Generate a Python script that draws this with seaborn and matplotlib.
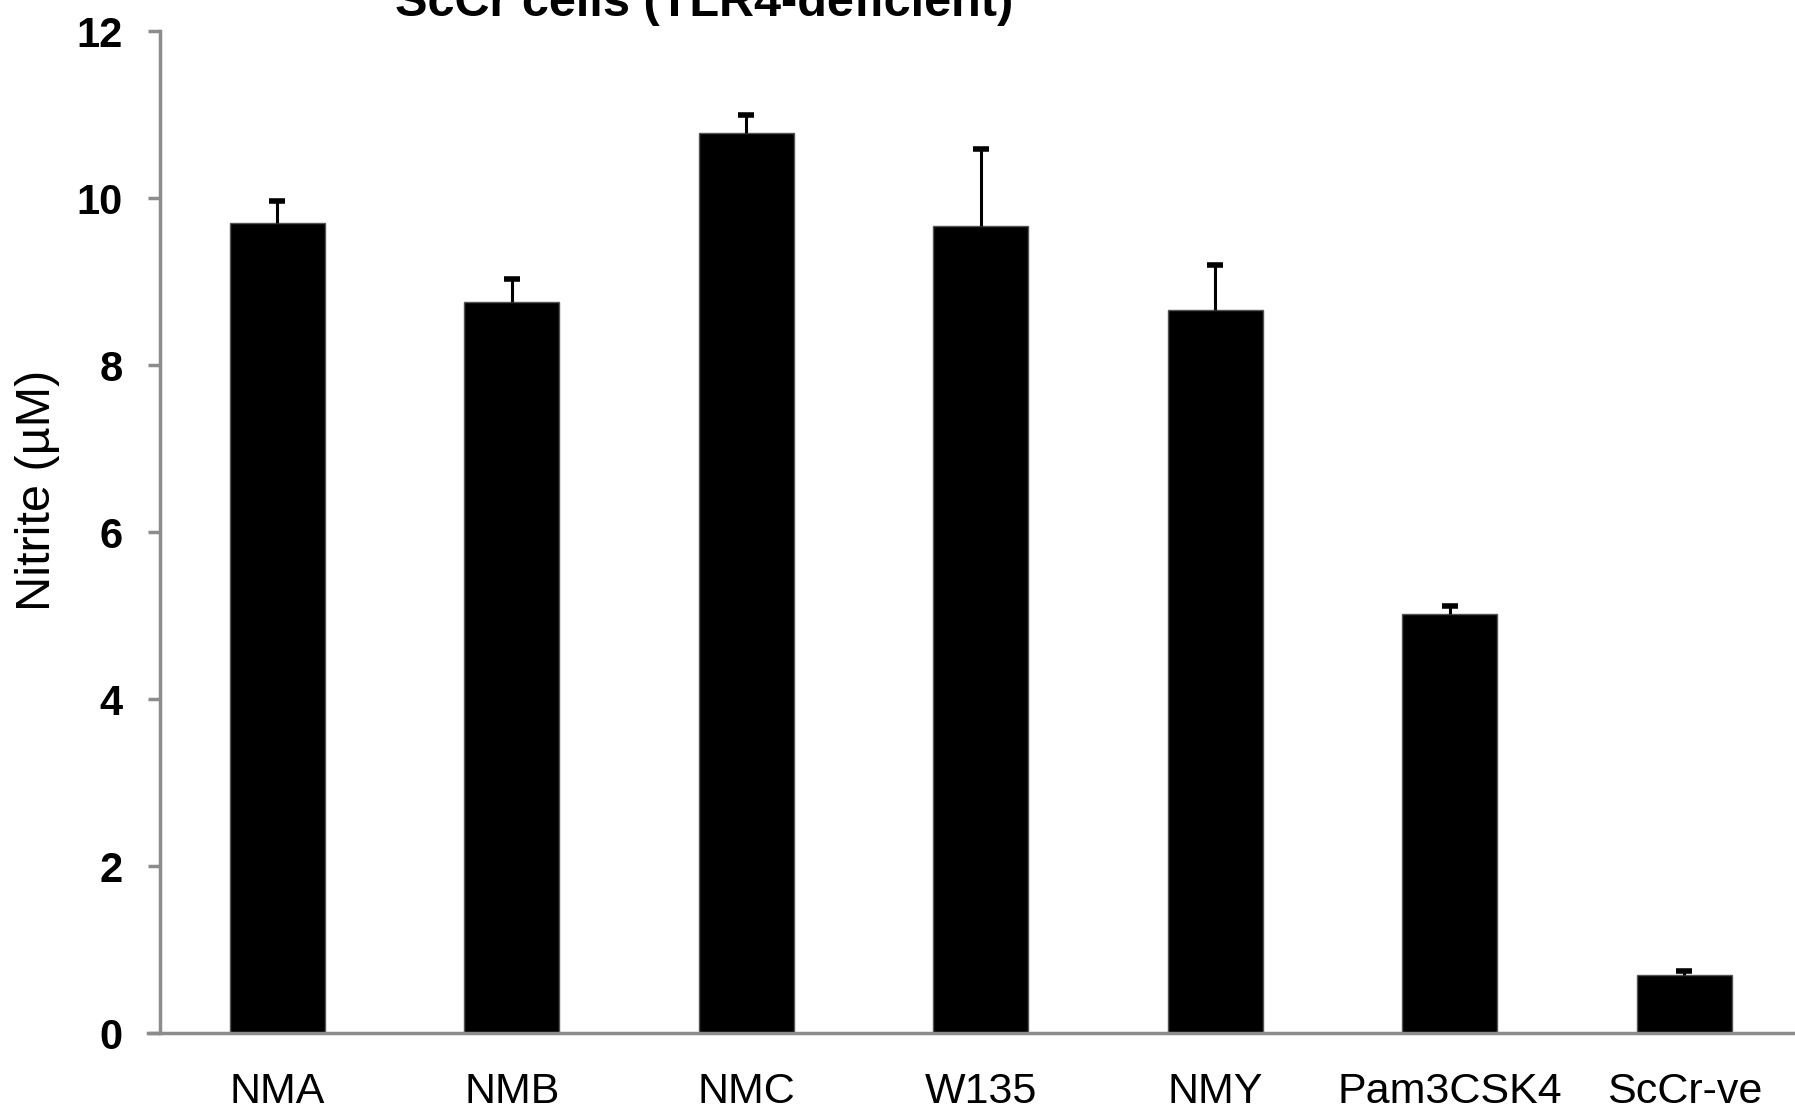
import numpy as np
import pandas as pd
import matplotlib
matplotlib.use("Agg")
import matplotlib.pyplot as plt
import seaborn as sns

# values
groups = ["NMA", "NMB", "NMC", "W135", "NMY", "Pam3CSK4", "ScCr-ve"]
nitrite = [9.70, 8.75, 10.78, 9.66, 8.66, 5.02, 0.69]
nitrite_err = [0.26, 0.28, 0.22, 0.93, 0.54, 0.10, 0.05]
y_ticks = [0, 2, 4, 6, 8, 10, 12]

sns.set_style("white")
plt.rcParams['font.family'] = ['Liberation Sans', 'DejaVu Sans']
plt.rcParams['text.color'] = 'black'
plt.rcParams['axes.labelcolor'] = 'black'

df = pd.DataFrame({"group": groups, "nitrite": nitrite})

fig = plt.figure(figsize=(17.95, 11.09), dpi=100)
ax = fig.add_axes([0.0891, 0.0685, 0.9145, 0.9035])

sns.barplot(data=df, x="group", y="nitrite", color="black", saturation=1,
            width=0.405, errorbar=None, edgecolor="#555555", linewidth=1, ax=ax)

# only the upper half of the error bars is shown
x_pos = np.arange(len(groups))
tops = np.array(nitrite) + np.array(nitrite_err)
ax.errorbar(x_pos, nitrite, yerr=[np.zeros(len(groups)), nitrite_err],
            fmt="none", ecolor="black", elinewidth=2.2, capsize=0)
ax.plot(x_pos, tops, linestyle="none", marker="_", markersize=11,
        markeredgewidth=4, color="black")

ax.set_xlim(-0.5, len(groups) - 0.5)
ax.set_ylim(0, 12)
ax.set_yticks(y_ticks)
ax.set_yticklabels([str(t) for t in y_ticks], fontsize=30, fontweight="bold")
ax.tick_params(axis="y", direction="out", length=9, width=2.5, color="#8c8c8c",
               labelcolor="black", pad=18, left=True)
ax.tick_params(axis="x", length=0, pad=28, labelsize=31, labelcolor="black")
ax.set_xlabel("")
ax.set_ylabel("Nitrite (\u00b5M)", fontsize=35)
ax.yaxis.set_label_coords(-0.061, 0.542)

for side in ["top", "right"]:
    ax.spines[side].set_visible(False)
for side in ["left", "bottom"]:
    ax.spines[side].set_color("#8c8c8c")
    ax.spines[side].set_linewidth(2.5)
ax.spines["bottom"].set_bounds(-0.55, len(groups) - 0.5)
ax.spines["bottom"].set_clip_on(False)

fig.text(0.392, 0.9855, "ScCr cells (TLR4-deficient)", fontsize=35,
         fontweight="bold", ha="center", va="baseline")

fig.savefig("out.png", dpi=100)
